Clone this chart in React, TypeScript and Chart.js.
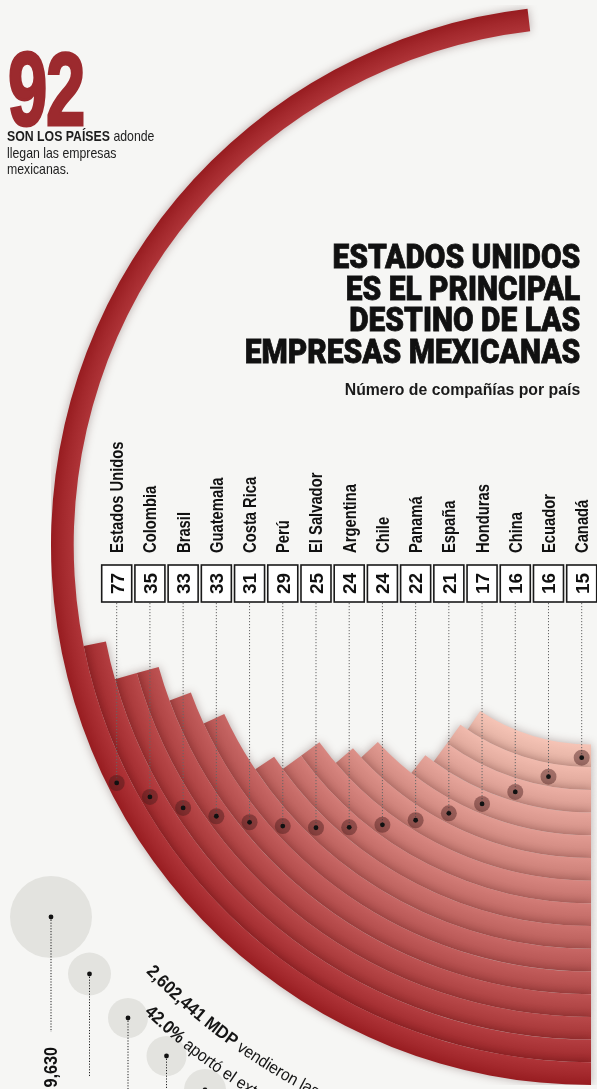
import React, { useEffect, useRef } from 'react';
import { Chart, registerables } from 'chart.js';

Chart.register(...registerables);

// ---------- data ----------
const countries = ['Estados Unidos', 'Colombia', 'Brasil', 'Guatemala', 'Costa Rica', 'Perú', 'El Salvador', 'Argentina', 'Chile', 'Panamá', 'España', 'Honduras', 'China', 'Ecuador', 'Canadá'];
const companies = [77, 35, 33, 33, 31, 29, 25, 24, 24, 22, 21, 17, 16, 16, 15];
const companiesPerTurn = 160; // number of companies that would close a full circle

const bubbleIndex = [0, 1, 2, 3, 4];
const bubbleDepth = [57, 114, 158, 196, 230];
const bubbleRadius = [41, 21.5, 20, 20, 21];
const bubbleLabels = ['9,630'];

const salesLine = [
  { text: '2,602,441 MDP', bold: true },
  { text: ' vendieron las', bold: false },
];
const shareLine = [
  { text: '42.0%', bold: true },
  { text: ' aportó el extranjero', bold: false },
];

// ---------- layout / style ----------
const W = 597, H = 1089;
const BG = '#f6f6f4';
const CX = 591, CY = 545;
const R_OUT = 540, BAND = 22.7;
const R_IN = R_OUT - BAND * countries.length;
const RING = R_OUT * 2;
const FIRST_X = 116.7, LAST_X = 581.7;
const LABEL_Y = 553, BOX_TOP = 565, BOX_H = 37, BOX_W = 30;
const FONT = '"Liberation Sans", Arial, sans-serif';
const BAND_FROM = [163, 40, 44];
const BAND_TO = [234, 184, 170];
const BUB_LEFT = 0, BUB_TOP = 860, BUB_W = 260, BUB_H = 229;

function mix(i: number, shift: number) {
  const t = i / (countries.length - 1);
  const c = BAND_FROM.map((s, k) => Math.max(0, Math.min(255, Math.round(s + (BAND_TO[k] - s) * t + shift))));
  return `rgb(${c[0]},${c[1]},${c[2]})`;
}

function bandFill(context: any) {
  if (context.dataIndex !== 0) return 'rgba(0,0,0,0)';
  const i = context.datasetIndex;
  const chart = context.chart;
  const ctrl: any = chart.getDatasetMeta(i).controller;
  const ca = chart.chartArea;
  if (!ca || !(ctrl.outerRadius > ctrl.innerRadius)) return mix(i, 0);
  const cx = (ca.left + ca.right) / 2 + (ctrl.offsetX || 0);
  const cy = (ca.top + ca.bottom) / 2 + (ctrl.offsetY || 0);
  const g = chart.ctx.createRadialGradient(cx, cy, ctrl.innerRadius, cx, cy, ctrl.outerRadius);
  g.addColorStop(0, mix(i, 12));
  g.addColorStop(0.55, mix(i, 0));
  g.addColorStop(1, mix(i, -12));
  return g;
}

const ringShadow = {
  id: 'ringShadow',
  beforeDatasetDraw(chart: any) {
    const c = chart.ctx;
    c.save();
    c.shadowColor = 'rgba(50, 10, 10, 0.32)';
    c.shadowBlur = 10;
  },
  afterDatasetDraw(chart: any) {
    chart.ctx.restore();
  },
};

function drawArcText(ctx: CanvasRenderingContext2D, cx: number, cy: number, r: number, startDeg: number, segs: { text: string; bold: boolean }[], boldSize: number, regSize: number, sx: number) {
  let a = (startDeg * Math.PI) / 180;
  for (const seg of segs) {
    ctx.font = seg.bold ? `bold ${boldSize}px ${FONT}` : `${regSize}px ${FONT}`;
    for (const ch of seg.text) {
      const w = ctx.measureText(ch).width * sx;
      const mid = a - w / 2 / r;
      ctx.save();
      ctx.translate(cx + r * Math.cos(mid), cy + r * Math.sin(mid));
      ctx.rotate(mid - Math.PI / 2);
      ctx.scale(sx, 1);
      ctx.textAlign = 'center';
      ctx.textBaseline = 'alphabetic';
      ctx.fillText(ch, 0, 0);
      ctx.restore();
      a -= w / r;
    }
  }
}

const makeLabelPlugin = (ring: any) => ({
  id: 'countryLabels',
  afterDatasetsDraw(chart: any) {
    const ctx: CanvasRenderingContext2D = chart.ctx;
    const xs = chart.scales.x;
    const values = chart.data.datasets[0].data as number[];
    const ringLeft = CX - R_OUT, ringTop = CY - R_OUT;
    const a0: any = ring.getDatasetMeta(0).data[0];
    const cx = ringLeft + a0.x, cy = ringTop + a0.y;

    ctx.save();
    ctx.fillStyle = '#151515';
    drawArcText(ctx, cx, cy, 617, 136.2, salesLine, 18, 17, 0.92);
    drawArcText(ctx, cx, cy, 647, 133.7, shareLine, 18, 17, 0.92);
    ctx.restore();

    countries.forEach((name, i) => {
      const x = xs.getPixelForValue(i);
      const ctrl: any = ring.getDatasetMeta(i).controller;
      const rm = (ctrl.innerRadius + ctrl.outerRadius) / 2 + 2;
      const dx = x - cx;
      const dotY = cy + Math.sqrt(Math.max(0, rm * rm - dx * dx));

      // leader
      ctx.save();
      ctx.setLineDash([1.2, 1.8]);
      ctx.strokeStyle = '#666';
      ctx.lineWidth = 1;
      ctx.beginPath();
      ctx.moveTo(x, BOX_TOP + BOX_H + 1);
      ctx.lineTo(x, dotY);
      ctx.stroke();
      ctx.restore();

      // dot
      ctx.beginPath();
      ctx.arc(x, dotY, 8, 0, Math.PI * 2);
      ctx.fillStyle = 'rgba(72, 26, 26, 0.45)';
      ctx.fill();
      ctx.beginPath();
      ctx.arc(x, dotY, 2.4, 0, Math.PI * 2);
      ctx.fillStyle = '#111';
      ctx.fill();

      // box
      ctx.fillStyle = '#fff';
      ctx.fillRect(x - BOX_W / 2, BOX_TOP, BOX_W, BOX_H);
      ctx.strokeStyle = '#1a1a1a';
      ctx.lineWidth = 1.6;
      ctx.strokeRect(x - BOX_W / 2, BOX_TOP, BOX_W, BOX_H);

      ctx.save();
      ctx.translate(x, BOX_TOP + BOX_H / 2);
      ctx.rotate(-Math.PI / 2);
      ctx.font = `bold 19px ${FONT}`;
      ctx.textAlign = 'center';
      ctx.textBaseline = 'alphabetic';
      ctx.fillStyle = '#111';
      ctx.fillText(String(values[i]), 0, 19 * 0.716 / 2);
      ctx.restore();

      // country label
      ctx.save();
      ctx.translate(x, LABEL_Y);
      ctx.rotate(-Math.PI / 2);
      ctx.scale(0.82, 1);
      ctx.font = `bold 18px ${FONT}`;
      ctx.textAlign = 'left';
      ctx.textBaseline = 'alphabetic';
      ctx.fillStyle = '#111';
      ctx.fillText(name, 0, 18 * 0.716 / 2);
      ctx.restore();
    });
  },
});

const bubbleLeaders = {
  id: 'bubbleLeaders',
  afterDatasetsDraw(chart: any) {
    const ctx: CanvasRenderingContext2D = chart.ctx;
    const meta = chart.getDatasetMeta(0);
    meta.data.forEach((pt: any, k: number) => {
      const end = 172 + 45 * k;
      ctx.save();
      ctx.setLineDash([1.2, 1.6]);
      ctx.strokeStyle = '#222';
      ctx.lineWidth = 1;
      ctx.beginPath();
      ctx.moveTo(pt.x, pt.y);
      ctx.lineTo(pt.x, end);
      ctx.stroke();
      ctx.restore();
      ctx.beginPath();
      ctx.arc(pt.x, pt.y, 2.4, 0, Math.PI * 2);
      ctx.fillStyle = '#111';
      ctx.fill();
      if (bubbleLabels[k]) {
        ctx.save();
        ctx.translate(pt.x, end + 15);
        ctx.rotate(-Math.PI / 2);
        ctx.scale(0.9, 1);
        ctx.font = `bold 18px ${FONT}`;
        ctx.textAlign = 'right';
        ctx.textBaseline = 'alphabetic';
        ctx.fillStyle = '#111';
        ctx.fillText(bubbleLabels[k], 0, 18 * 0.716 / 2);
        ctx.restore();
      }
    });
  },
};

export default function App() {
  const ringRef = useRef<HTMLCanvasElement>(null);
  const overlayRef = useRef<HTMLCanvasElement>(null);
  const bubbleRef = useRef<HTMLCanvasElement>(null);

  useEffect(() => {
    const ring = new Chart(ringRef.current as HTMLCanvasElement, {
      type: 'doughnut',
      data: {
        labels: ['empresas', 'resto'],
        datasets: countries.map((name, i) => ({
          label: name,
          data: [companies[i], companiesPerTurn - companies[i]],
          backgroundColor: bandFill,
          borderWidth: 0,
          hoverOffset: 0,
          offset: 0,
        })),
      },
      options: {
        responsive: false,
        animation: false,
        events: [],
        rotation: 180,
        radius: '100%',
        cutout: `${(R_IN / R_OUT) * 100}%`,
        layout: { padding: 0, autoPadding: false },
        plugins: { legend: { display: false }, tooltip: { enabled: false } },
      } as any,
      plugins: [ringShadow],
    });

    const overlay = new Chart(overlayRef.current as HTMLCanvasElement, {
      type: 'line',
      data: {
        labels: countries,
        datasets: [{ label: 'Número de compañías', data: companies, showLine: false, pointRadius: 0 }],
      },
      options: {
        responsive: false,
        animation: false,
        events: [],
        layout: { padding: { left: FIRST_X, right: W - LAST_X, top: 0, bottom: 0 }, autoPadding: false },
        scales: {
          x: { type: 'category', display: false, offset: false },
          y: { display: false },
        },
        plugins: { legend: { display: false }, tooltip: { enabled: false } },
      } as any,
      plugins: [makeLabelPlugin(ring)],
    });

    const bxMin = -51 / 38.5;
    const bubbles = new Chart(bubbleRef.current as HTMLCanvasElement, {
      type: 'bubble',
      data: {
        datasets: [{
          data: bubbleIndex.map((x, k) => ({ x, y: bubbleDepth[k], r: bubbleRadius[k] })),
          backgroundColor: '#e3e3df',
          borderWidth: 0,
          clip: false,
        }],
      },
      options: {
        responsive: false,
        animation: false,
        events: [],
        layout: { padding: 0, autoPadding: false },
        scales: {
          x: { type: 'linear', display: false, min: bxMin, max: bxMin + BUB_W / 38.5 },
          y: { type: 'linear', display: false, reverse: true, min: 0, max: BUB_H },
        },
        plugins: { legend: { display: false }, tooltip: { enabled: false } },
      } as any,
      plugins: [bubbleLeaders],
    });

    return () => {
      ring.destroy();
      overlay.destroy();
      bubbles.destroy();
    };
  }, []);

  return (
    <div style={{ position: 'absolute', left: 0, top: 0, width: W, height: H, overflow: 'hidden', background: BG }}>
      <canvas ref={ringRef} width={RING} height={RING}
        style={{ position: 'absolute', left: CX - R_OUT, top: CY - R_OUT, width: RING, height: RING }} />
      <canvas ref={bubbleRef} width={BUB_W} height={BUB_H}
        style={{ position: 'absolute', left: BUB_LEFT, top: BUB_TOP, width: BUB_W, height: BUB_H }} />
      <canvas ref={overlayRef} width={W} height={H}
        style={{ position: 'absolute', left: 0, top: 0, width: W, height: H }} />

      <div style={{
        position: 'absolute', left: 8, top: 36.5, fontFamily: FONT, fontWeight: 700, fontSize: 104,
        lineHeight: '104px', color: '#9c2a2e', letterSpacing: -2, whiteSpace: 'nowrap',
        transform: 'scaleX(0.68)', transformOrigin: 'left top', WebkitTextStroke: '3px #9c2a2e',
      }}>92</div>

      <div style={{
        position: 'absolute', left: 7, top: 128.2, fontFamily: FONT, fontSize: 15, lineHeight: '16.6px',
        color: '#1d1d1d', whiteSpace: 'nowrap', transform: 'scaleX(0.82)', transformOrigin: 'left top',
      }}>
        <b>SON LOS PAÍSES</b> adonde<br />llegan las empresas<br />mexicanas.
      </div>

      <div style={{
        position: 'absolute', right: W - 580, top: 240.8, fontFamily: 'Roboto, "Liberation Sans", sans-serif',
        fontWeight: 900, fontSize: 34, lineHeight: '31.7px', color: '#111', textAlign: 'right',
        whiteSpace: 'nowrap', transform: 'scaleX(0.88)', transformOrigin: 'right top',
        WebkitTextStroke: '0.8px #111',
      }}>
        ESTADOS UNIDOS<br />ES EL PRINCIPAL<br />DESTINO DE LAS<br />EMPRESAS MEXICANAS
      </div>

      <div style={{
        position: 'absolute', right: W - 580, top: 379.8, fontFamily: FONT, fontWeight: 700, fontSize: 17,
        lineHeight: '20px', color: '#1a1a1a', textAlign: 'right', whiteSpace: 'nowrap',
        transform: 'scaleX(0.93)', transformOrigin: 'right top',
      }}>
        Número de compañías por país
      </div>
    </div>
  );
}
